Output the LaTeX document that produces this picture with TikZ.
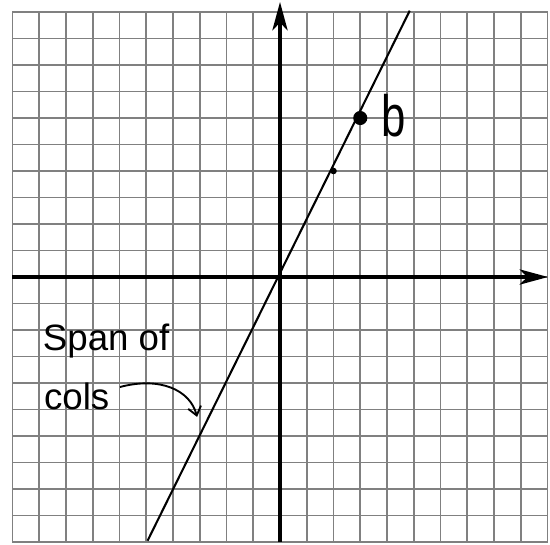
\documentclass[tikz,border=0pt]{standalone}
\usepackage{fontspec}
\setmainfont{Liberation Sans}
\usetikzlibrary{arrows.meta}
\begin{document}
\begin{tikzpicture}[x=1cm,y=0.99065cm,
  gridline/.style={draw=black!50,line width=2pt},
  axis/.style={draw=black,line width=4.4pt,-{Stealth[length=30pt,width=16pt,inset=8pt]}},
  spanline/.style={draw=black,line width=2.2pt},
  hand/.style={font=\fontsize{39}{44}\selectfont,inner sep=0pt}]
\useasboundingbox (-10.467,-10.075) rectangle (10.093,10.453);
\fill[white] (-10.467,-10.075) rectangle (10.093,10.453);
\foreach \i in {-10,...,10} {
  \draw[gridline] (\i,-10) -- (\i,10);
  \draw[gridline] (-10,\i) -- (10,\i);
}
\coordinate (xl) at (-10,0);
\coordinate (xr) at (10.02,0);
\coordinate (yb) at (0,-10);
\coordinate (yt) at (0,10.38);
\draw[axis] (xl) -- (xr);
\draw[axis] (yb) -- (yt);
\coordinate (lb) at (-4.95,-9.95);
\coordinate (lt) at (4.85,10.05);
\draw[spanline] (lb) -- (lt);
\fill (3,6) circle (7.5pt) coordinate (b);
\fill (2,4) circle (3.5pt) coordinate (d);
\node[hand,font=\fontsize{62}{66}\selectfont,xscale=0.75] (blabel) at (4.25,6.1) {b};
\node[hand] (span) at (-6.5,-2.4) {Span of};
\node[hand] (cols) at (-7.6,-4.5) {cols};
\coordinate (as) at (-5.98,-4.15);
\coordinate (ae) at (-3.10,-5.28);
\draw[line width=2pt,-{Straight Barb[length=9pt,width=14pt]}] (as) .. controls (-4.49,-3.75) and (-3.36,-4.26) .. (ae);
\end{tikzpicture}
\end{document}
